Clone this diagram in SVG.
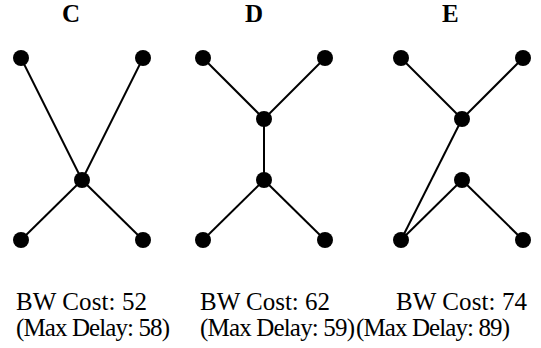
<svg xmlns="http://www.w3.org/2000/svg" width="541" height="348" viewBox="0 0 541 348">
  <style>
    .edge { stroke: #000; stroke-width: 2; fill: none; }
    .node { fill: #000; }
    .title { font-family: "Liberation Serif", "Times New Roman", serif; font-weight: bold; font-size: 25px; fill: #000; }
    .label { font-family: "Liberation Serif", "Times New Roman", serif; font-size: 25px; fill: #000; }
  </style>
  <rect width="541" height="348" fill="#fff"/>

  <!-- Connectors -->
  <g id="connectors">
    <!-- Tree C -->
    <line class="edge" x1="21" y1="58" x2="82" y2="180"/>
    <line class="edge" x1="143" y1="58" x2="82" y2="180"/>
    <line class="edge" x1="82" y1="180" x2="21" y2="240"/>
    <line class="edge" x1="82" y1="180" x2="143" y2="240"/>
    <!-- Tree D -->
    <line class="edge" x1="203" y1="58" x2="264" y2="119"/>
    <line class="edge" x1="325" y1="58" x2="264" y2="119"/>
    <line class="edge" x1="264" y1="119" x2="264" y2="180"/>
    <line class="edge" x1="264" y1="180" x2="203" y2="240"/>
    <line class="edge" x1="264" y1="180" x2="325" y2="240"/>
    <!-- Tree E -->
    <line class="edge" x1="401" y1="58" x2="462" y2="119"/>
    <line class="edge" x1="523" y1="58" x2="462" y2="119"/>
    <line class="edge" x1="462" y1="119" x2="401" y2="240"/>
    <line class="edge" x1="401" y1="240" x2="462" y2="180"/>
    <line class="edge" x1="462" y1="180" x2="523" y2="240"/>
  </g>

  <!-- Tree C -->
  <g id="tree-c">
    <text class="title" x="62" y="22">C</text>
    <g id="c-top-left"><circle class="node" cx="21" cy="58" r="8"/></g>
    <g id="c-top-right"><circle class="node" cx="143" cy="58" r="8"/></g>
    <g id="c-center"><circle class="node" cx="82" cy="180" r="8"/></g>
    <g id="c-bottom-left"><circle class="node" cx="21" cy="240" r="8"/></g>
    <g id="c-bottom-right"><circle class="node" cx="143" cy="240" r="8"/></g>
    <text class="label" x="16" y="310" textLength="131">BW Cost: 52</text>
    <text class="label" x="16" y="336" textLength="154">(Max Delay: 58)</text>
  </g>

  <!-- Tree D -->
  <g id="tree-d">
    <text class="title" x="245" y="22">D</text>
    <g id="d-top-left"><circle class="node" cx="203" cy="58" r="8"/></g>
    <g id="d-top-right"><circle class="node" cx="325" cy="58" r="8"/></g>
    <g id="d-upper"><circle class="node" cx="264" cy="119" r="8"/></g>
    <g id="d-lower"><circle class="node" cx="264" cy="180" r="8"/></g>
    <g id="d-bottom-left"><circle class="node" cx="203" cy="240" r="8"/></g>
    <g id="d-bottom-right"><circle class="node" cx="325" cy="240" r="8"/></g>
    <text class="label" x="200" y="310" textLength="130">BW Cost: 62</text>
    <text class="label" x="200" y="336" textLength="155">(Max Delay: 59)</text>
  </g>

  <!-- Tree E -->
  <g id="tree-e">
    <text class="title" x="442" y="22">E</text>
    <g id="e-top-left"><circle class="node" cx="401" cy="58" r="8"/></g>
    <g id="e-top-right"><circle class="node" cx="523" cy="58" r="8"/></g>
    <g id="e-upper"><circle class="node" cx="462" cy="119" r="8"/></g>
    <g id="e-lower"><circle class="node" cx="462" cy="180" r="8"/></g>
    <g id="e-bottom-left"><circle class="node" cx="401" cy="240" r="8"/></g>
    <g id="e-bottom-right"><circle class="node" cx="523" cy="240" r="8"/></g>
    <text class="label" x="396" y="310" textLength="131">BW Cost: 74</text>
    <text class="label" x="356" y="336" textLength="154">(Max Delay: 89)</text>
  </g>
</svg>
